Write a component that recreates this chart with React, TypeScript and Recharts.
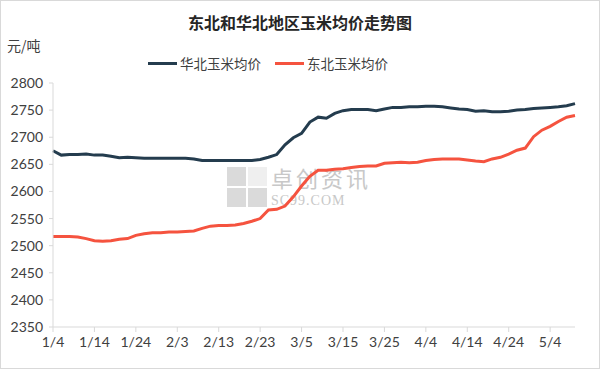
import React from 'react';
import { LineChart, Line, XAxis, YAxis } from 'recharts';

// days since 1/4
const days = [
  0, 2, 4, 6, 8, 10, 12, 14, 16, 18, 20, 22, 24, 26, 28, 30, 32, 34, 36, 38, 40, 42,
  44, 46, 48, 50, 52, 54, 56, 58, 60, 62, 64, 66, 68, 70, 72, 74, 76, 78, 80, 82, 84,
  86, 88, 90, 92, 94, 96, 98, 100, 102, 104, 106, 108, 110, 112, 114, 116, 118, 120,
  122, 124, 126,
];

const huabei = [
  2675, 2667, 2668, 2668, 2669, 2667, 2667, 2665, 2662, 2663, 2662, 2661, 2661, 2661,
  2661, 2661, 2661, 2660, 2657, 2657, 2657, 2657, 2657, 2657, 2657, 2659, 2663, 2668,
  2686, 2699, 2707, 2728, 2737, 2735, 2744, 2749, 2751, 2751, 2751, 2749, 2752, 2755,
  2755, 2756, 2756, 2757, 2757, 2756, 2754, 2752, 2751, 2748, 2749, 2747, 2747, 2748,
  2750, 2751, 2753, 2754, 2755, 2756, 2758, 2762,
];

const dongbei = [
  2517, 2517, 2517, 2516, 2513, 2509, 2508, 2509, 2512, 2513, 2519, 2522, 2524, 2524,
  2525, 2525, 2526, 2527, 2532, 2536, 2537, 2537, 2538, 2541, 2545, 2550, 2566, 2567,
  2573, 2590, 2610, 2628, 2639, 2639, 2641, 2642, 2644, 2646, 2647, 2647, 2652, 2653,
  2654, 2653, 2654, 2657, 2659, 2660, 2660, 2660, 2658, 2656, 2655, 2660, 2663, 2669,
  2676, 2680, 2701, 2713, 2720, 2729, 2737, 2740,
];

const tickDays = [0, 10, 20, 30, 40, 50, 60, 70, 80, 90, 100, 110, 120];
const tickLabels = ['1/4', '1/14', '1/24', '2/3', '2/13', '2/23', '3/5', '3/15', '3/25', '4/4', '4/14', '4/24', '5/4'];
const yTicks = [2350, 2400, 2450, 2500, 2550, 2600, 2650, 2700, 2750, 2800];

const data = days.map((d, i) => ({ day: d, huabei: huabei[i], dongbei: dongbei[i] }));

const DARK = '#243c4e';
const RED = '#f5533f';
const tickFont = { fontFamily: 'Lato, "Liberation Sans", sans-serif', fontSize: 14, fill: '#404040' };

const App: React.FC = () => {
  return (
    <div style={{ position: 'absolute', left: 0, top: 0, width: 598, height: 367, border: '1px solid #d9d9d9', background: '#fff', fontFamily: '"Noto Sans CJK SC", sans-serif' }}>
      <div style={{ position: 'absolute', top: 9, left: 0, width: 598, textAlign: 'center', fontSize: 16, fontWeight: 700, color: '#262626' }}>
        东北和华北地区玉米均价走势图
      </div>
      <div style={{ position: 'absolute', top: 34, left: 6, fontSize: 14, color: '#404040' }}>元/吨</div>
      <div style={{ position: 'absolute', top: 52, left: 147, display: 'flex', alignItems: 'center', fontSize: 13.5, color: '#404040' }}>
        <span style={{ display: 'inline-block', width: 29, height: 3, background: DARK, marginRight: 3 }} />
        <span style={{ marginRight: 14 }}>华北玉米均价</span>
        <span style={{ display: 'inline-block', width: 29, height: 3, background: RED, marginRight: 3 }} />
        <span>东北玉米均价</span>
      </div>
      {/* watermark */}
      <div style={{ position: 'absolute', top: 166, left: 226, opacity: 0.3 }}>
        <div style={{ display: 'grid', gridTemplateColumns: '19px 19px', gap: 2 }}>
          <div style={{ width: 19, height: 19, background: '#888' }} />
          <div style={{ width: 19, height: 19, background: '#ccc' }} />
          <div style={{ width: 19, height: 19, background: '#888' }} />
          <div style={{ width: 19, height: 19, background: '#888' }} />
        </div>
      </div>
      <div style={{ position: 'absolute', top: 164, left: 270, fontSize: 22, letterSpacing: 3, color: '#c8c8c8', lineHeight: '24px' }}>卓创资讯</div>
      <div style={{ position: 'absolute', top: 192, left: 270, fontSize: 14, letterSpacing: 1, color: '#c8c8c8', fontFamily: '"Liberation Serif", serif', lineHeight: '15px' }}>SC99.COM</div>
      <div style={{ position: 'absolute', left: -1, top: -1 }}>
        <LineChart width={600} height={369} data={data} margin={{ top: 83, right: 25, bottom: 0, left: 0 }}>
          <XAxis
            dataKey="day"
            type="number"
            domain={[0, 126]}
            ticks={tickDays}
            tickFormatter={(v: number) => tickLabels[tickDays.indexOf(v)]}
            height={42}
            axisLine={{ stroke: '#d9d9d9' }}
            tickLine={{ stroke: '#d9d9d9' }}
            tickSize={5}
            tick={tickFont}
            tickMargin={5}
            interval={0}
          />
          <YAxis
            domain={[2350, 2800]}
            ticks={yTicks}
            width={53}
            axisLine={{ stroke: '#d9d9d9' }}
            tickLine={{ stroke: '#d9d9d9' }}
            tickSize={4}
            tick={tickFont}
            tickMargin={6}
            interval={0}
          />
          <Line type="linear" dataKey="huabei" stroke={DARK} strokeWidth={3} dot={false} isAnimationActive={false} />
          <Line type="linear" dataKey="dongbei" stroke={RED} strokeWidth={3} dot={false} isAnimationActive={false} />
        </LineChart>
      </div>
    </div>
  );
};

export default App;
